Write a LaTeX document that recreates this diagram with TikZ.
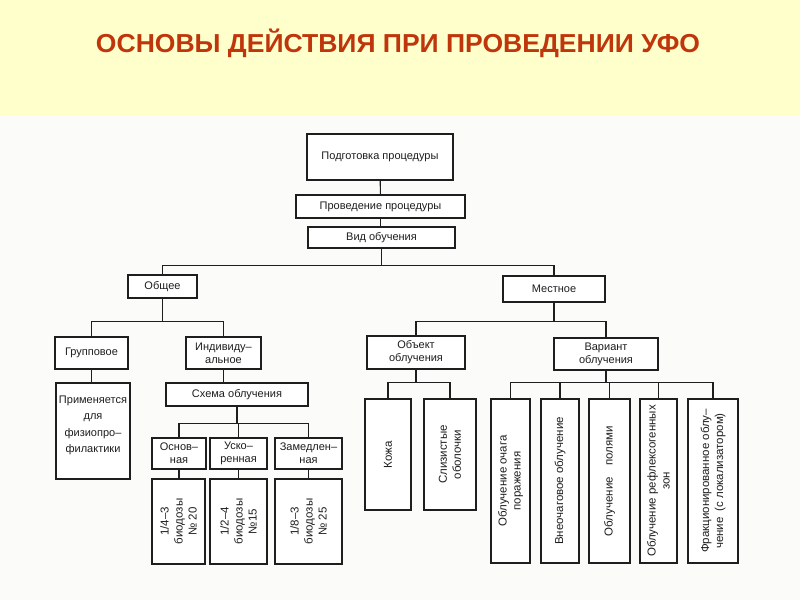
\documentclass[tikz,border=0pt]{standalone}
\usepackage{fontspec}
\setmainfont{Liberation Sans}
\definecolor{bandyellow}{HTML}{FFFFCC}
\definecolor{paper}{HTML}{FBFBF9}
\definecolor{titlered}{HTML}{C0360C}
\definecolor{ink}{HTML}{1E1E1E}
\begin{document}
\begin{tikzpicture}[x=1pt,y=-1pt,
  box/.style={draw=ink, line width=1.6pt, fill=white, align=center, inner sep=1pt,
    font=\fontsize{11}{13}\selectfont, text=ink},
  vbox/.style={box, rotate=90, font=\fontsize{11.5}{14}\selectfont},
  link/.style={draw=ink, line width=1.1pt}]
\useasboundingbox (0,0) rectangle (800,600);
\fill[paper] (0,0) rectangle (800,600);
\fill[bandyellow] (0,0) rectangle (800,116);
\node[text=titlered, font=\fontsize{26}{30}\bfseries\selectfont] (title) at (398,43) {\scalebox{1.02}[1]{ОСНОВЫ ДЕЙСТВИЯ ПРИ ПРОВЕДЕНИИ УФО}};

% top chain
\node[box, minimum width=146, minimum height=46] (prep) at (380,157) {Подготовка процедуры};
\node[box, minimum width=169, minimum height=23] (prov) at (380.5,206.5) {Проведение процедуры};
\node[box, minimum width=147, minimum height=21] (vid) at (381.5,237.5) {Вид обучения};

% level 2
\node[box, minimum width=69, minimum height=23] (obsh) at (162.5,286.5) {Общее};
\node[box, minimum width=102, minimum height=26] (mest) at (554,289) {Местное};

% level 3
\node[box, minimum width=73, minimum height=32] (grup) at (91.5,353) {Групповое};
\node[box, minimum width=75, minimum height=32] (indiv) at (223.5,353) {Индивиду–\\альное};
\node[box, minimum width=98, minimum height=33] (obj) at (416,352.5) {Объект\\облучения};
\node[box, minimum width=104, minimum height=32] (var) at (606,354) {Вариант\\облучения};

% group branch
\node[box, inner sep=0pt, minimum width=74, minimum height=96, anchor=north] (prim) at (93,382)
  {\parbox[c][94pt][t]{72pt}{\centering\fontsize{11}{16.5}\selectfont\vspace{12pt}Применяется\\для\\физиопро–\\филактики}};

% individual branch
\node[box, minimum width=142, minimum height=23] (schema) at (237,394.5) {Схема облучения};
\node[box, minimum width=54, minimum height=31] (osn) at (179,453.5) {Основ–\\ная};
\node[box, minimum width=57, minimum height=31] (usk) at (238.5,453.5) {Уско–\\ренная};
\node[box, minimum width=67, minimum height=31] (zam) at (308.5,453.5) {Замедлен–\\ная};
\node[vbox, minimum width=85, minimum height=53] (d1) at (178.5,521.5) {1/4–3\\биодозы\\№ 20};
\node[vbox, minimum width=85, minimum height=57] (d2) at (238.5,521.5) {1/2–4\\биодозы\\№15};
\node[vbox, minimum width=85, minimum height=67] (d3) at (308.5,521.5) {1/8–3\\биодозы\\№ 25};

% object branch
\node[vbox, minimum width=111, minimum height=46] (kozha) at (388,454.5) {Кожа};
\node[vbox, minimum width=111, minimum height=52] (sliz) at (450,454.5) {Слизистые\\оболочки};

% variant branch
\node[vbox, minimum width=164, minimum height=39] (v1) at (510.5,481) {Облучение очага\\поражения};
\node[vbox, minimum width=164, minimum height=38] (v2) at (560,481) {Внеочаговое облучение};
\node[vbox, minimum width=164, minimum height=41] (v3) at (609.5,481) {Облучение\quad полями};
\node[vbox, minimum width=164, minimum height=37] (v4) at (658.5,481) {Облучение рефлексогенных\\зон};
\node[vbox, minimum width=164, minimum height=50] (v5) at (713,481) {Фракционированное облу–\\чение\enspace (с локализатором)};

% connectors
\draw[link] (prep) -- (prov);
\draw[link] (prov.south) -- (prov.south |- vid.north);
\draw[link] (vid.south) -- ++(0,17) coordinate (j1);
\draw[link] (j1) -| (obsh.north);
\draw[link] (j1) -| (mest.north);

\draw[link] (obsh.south) -- ++(0,22.5) coordinate (j2);
\draw[link] (j2) -| (grup.north);
\draw[link] (j2) -| (indiv.north);

\draw[link] (mest.south) -- ++(0,19) coordinate (j3);
\draw[link] (j3) -| (obj.north);
\draw[link] (j3) -| (var.north);

\draw[link] (grup.south) -- (grup.south |- prim.north);
\draw[link] (indiv.south) -- (indiv.south |- schema.north);

\draw[link] (schema.south) -- ++(0,16.5) coordinate (j4);
\draw[link] (j4) -| (osn.north);
\draw[link] (j4) -| (usk.north);
\draw[link] (j4) -| (zam.north);
\draw[link] (osn.south) -- (osn.south |- d1.east);
\draw[link] (usk.south) -- (usk.south |- d2.east);
\draw[link] (zam.south) -- (zam.south |- d3.east);

\draw[link] (obj.south) -- ++(0,13) coordinate (j5);
\draw[link] (j5) -| (kozha.east);
\draw[link] (j5) -| (sliz.east);

\draw[link] (var.south) -- ++(0,12) coordinate (j6);
\draw[link] (j6) -| (v1.east);
\draw[link] (j6) -| (v2.east);
\draw[link] (j6) -| (v3.east);
\draw[link] (j6) -| (v4.east);
\draw[link] (j6) -| (v5.east);
\end{tikzpicture}
\end{document}
